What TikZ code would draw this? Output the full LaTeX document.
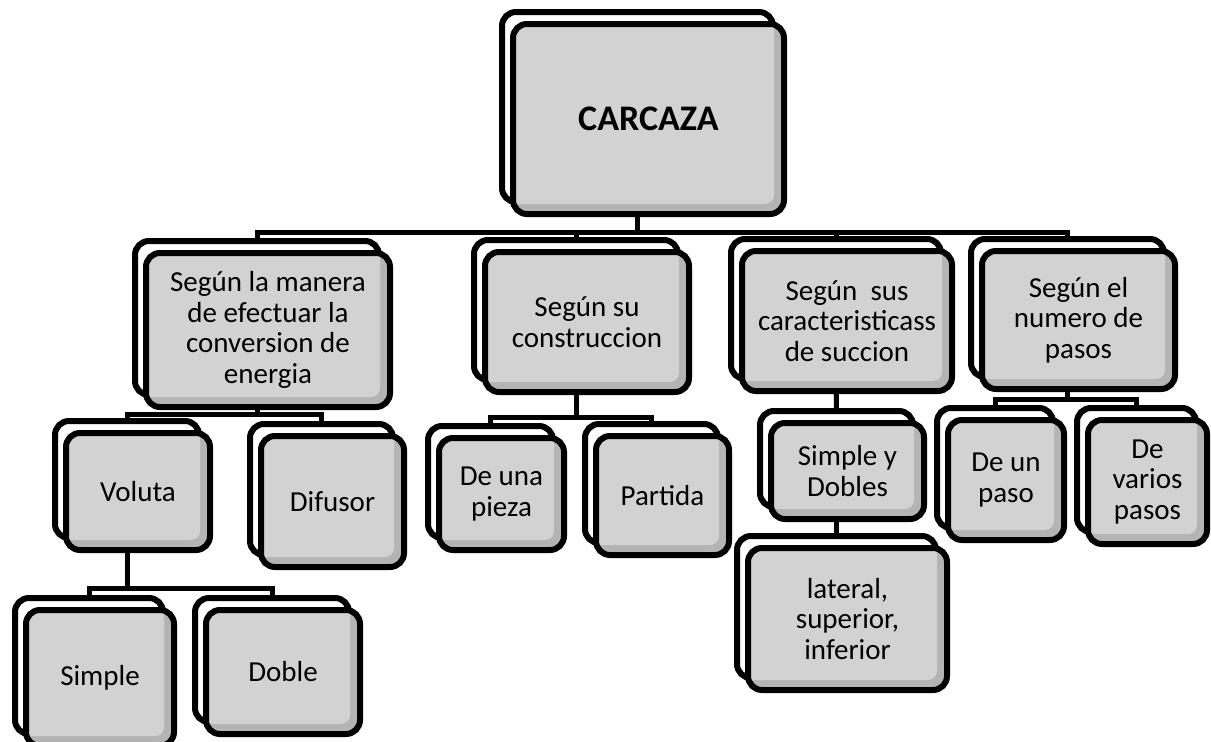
\documentclass[tikz,border=0pt]{standalone}
\usepackage{fontspec}
\setmainfont{Carlito}
\usetikzlibrary{calc,backgrounds}
\definecolor{facegray}{HTML}{D2D2D2}
\definecolor{edgegray}{HTML}{B4B4B4}

\begin{document}
\begin{tikzpicture}[x=1pt,y=-1pt,
  card/.style={draw=black,line width=6pt,rounded corners=14pt,inner sep=0pt,align=center,
    font=\fontsize{29}{30.6}\selectfont},
  back/.style={card,fill=white},
  face/.style={card,fill=edgegray,
    path picture={\fill[facegray,rounded corners=9pt] ($(path picture bounding box.north west)+(-3pt,3pt)$)
      rectangle ($(path picture bounding box.south east)+(-10pt,10pt)$);}},
  conn/.style={line width=5pt}]
\useasboundingbox (0,0) rectangle (1211,742);
% cards: name / centre of the grey face / width / height / text
\foreach \n/\x/\y/\w/\h/\t in {
  car/648.5/119/277/196/{\fontsize{36}{40}\selectfont\bfseries CARCAZA},
  man/268/330/250/160/{Según la manera\\de efectuar la\\conversion de\\energia},
  con/587/322/210/146/{Según su\\construccion},
  suc/847/321/216/146/{Según\ \ sus\\caracteristicass\\de succion},
  pas/1078.5/320/199/144/{Según el\\numero de\\pasos},
  vol/138/491.5/150/123/{Voluta},
  dif/332.5/501.5/149/137/{Difusor},
  pie/501.5/494/131/118/{De una\\pieza},
  par/662.5/495.5/139/125/{Partida},
  syd/847.5/471/159/102/{Simple y\\Dobles},
  lat/847.5/619/205/148/{lateral,\\superior,\\inferior},
  uno/1006/480/122/126/{De un\\paso},
  var/1147.5/482/125/130/{De\\varios\\pasos},
  sim/100/678/154/142/{Simple},
  dob/283/672/160/130/{Doble}} {
  \node[back,minimum width=\w pt-6pt,minimum height=\h pt-6pt] (\n-b) at (\x-11,\y-12) {};
  \node[face,minimum width=\w pt-6pt,minimum height=\h pt-6pt] (\n) at (\x,\y) {\t};
}
% connectors, behind the cards
\begin{scope}[on background layer]
\foreach \p/\yb/\kids in {car/232/{man,con,suc,pas}, man/414/{vol,dif}, con/417/{pie,par},
    pas/399/{uno,var}, vol/588/{sim,dob}} {
  \coordinate (\p-j) at (0,\yb);
  \foreach \c in \kids \draw[conn] (\p-b.south) -- (\p-b.south |- \p-j) -| (\c-b.north);
}
\draw[conn] (suc-b.south) -- (syd-b.north);
\draw[conn] (syd-b.south) -- (lat-b.north);
\end{scope}
\end{tikzpicture}
\end{document}
